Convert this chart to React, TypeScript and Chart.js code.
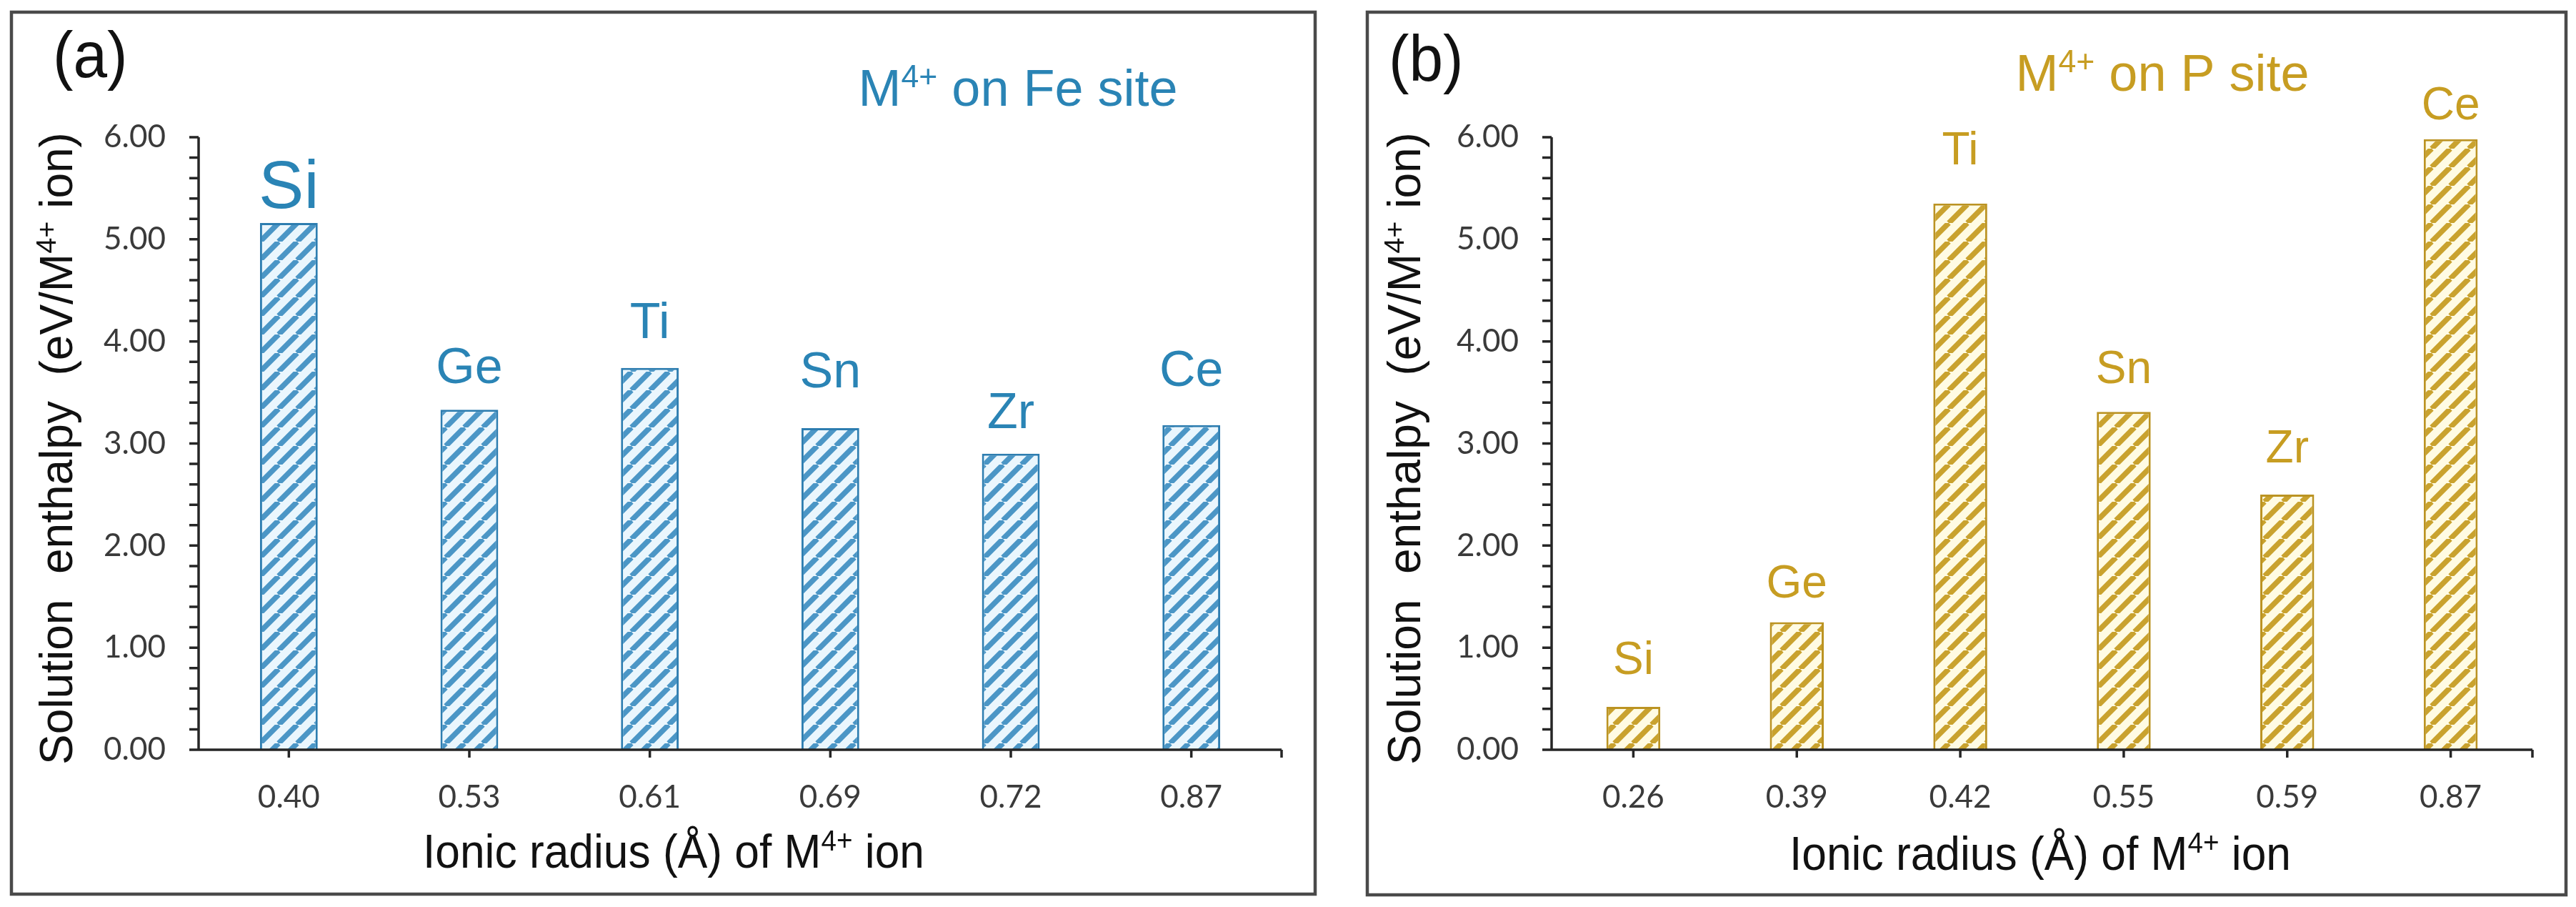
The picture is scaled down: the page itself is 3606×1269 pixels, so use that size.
import React, { useEffect, useRef } from "react";
import { Chart, registerables } from "chart.js";

Chart.register(...registerables);

// ---------- data ----------
const radiiFe = ["0.40", "0.53", "0.61", "0.69", "0.72", "0.87"];
const ionsFe = ["Si", "Ge", "Ti", "Sn", "Zr", "Ce"];
const enthalpyFe = [5.16, 3.33, 3.74, 3.15, 2.9, 3.18];

const radiiP = ["0.26", "0.39", "0.42", "0.55", "0.59", "0.87"];
const ionsP = ["Si", "Ge", "Ti", "Sn", "Zr", "Ce"];
const enthalpyP = [0.42, 1.25, 5.35, 3.31, 2.5, 5.98];

const yMin = 0;
const yMax = 6;
const yStep = 1;

// label gaps (px above bar top) – styling only
const gapsFe = [21, 37, 42, 57, 36, 55];
const gapsP = [46, 34, 55, 40, 45, 28];
const labelSizesFe = [95, 70, 70, 70, 70, 70];
const labelSizesP = [64, 64, 64, 64, 64, 64];

const PAGE_H = 1269;
const SANS = '"Liberation Sans", Arial, sans-serif';
const TICKFONT = 'Lato, "Open Sans", sans-serif';

type Part = [string, boolean];

function drawRich(
  ctx: CanvasRenderingContext2D,
  parts: Part[],
  x: number,
  y: number,
  size: number,
  align: "left" | "center",
  sx = 1
) {
  const sup = size * 0.62;
  const widths = parts.map(([t, s]) => {
    ctx.font = `${s ? sup : size}px ${SANS}`;
    return ctx.measureText(t).width;
  });
  const total = widths.reduce((a, b) => a + b, 0);
  ctx.save();
  ctx.translate(x, y);
  ctx.scale(sx, 1);
  let cx = align === "center" ? -total / 2 : 0;
  ctx.textAlign = "left";
  ctx.textBaseline = "alphabetic";
  parts.forEach(([t, s], i) => {
    ctx.font = `${s ? sup : size}px ${SANS}`;
    ctx.fillText(t, cx, s ? -size * 0.36 : 0);
    cx += widths[i];
  });
  ctx.restore();
}

function makeHatch(stripe: string, bg: string, p = 26, lw = 7.5) {
  const c = document.createElement("canvas");
  c.width = p;
  c.height = p;
  const g = c.getContext("2d")!;
  g.fillStyle = bg;
  g.fillRect(0, 0, p, p);
  g.strokeStyle = stripe;
  g.lineWidth = lw;
  g.beginPath();
  for (let k = -1; k <= 1; k++) {
    g.moveTo(k * p, p);
    g.lineTo(k * p + p, 0);
  }
  g.stroke();
  return g.createPattern(c, "repeat")!;
}

type PanelCfg = {
  letter: string;
  titleParts: Part[];
  color: string;
  barBorder: string;
  stripe: string;
  stripeBg: string;
  labels: string[];
  ions: string[];
  values: number[];
  gaps: number[];
  labelSizes: number[];
  barPct: number;
  canvasLeft: number;
  canvasWidth: number;
  area: { left: number; right: number; top: number; bottom: number };
  frame: { l: number; t: number; r: number; b: number };
  titleX: number;
  titleY: number;
  letterX: number;
  letterY: number;
  xTitleX: number;
  xTitleY: number;
  yTitleX: number;
};

const panelA: PanelCfg = {
  letter: "(a)",
  titleParts: [["M", false], ["4+", true], [" on Fe site", false]],
  color: "#2a84b5",
  barBorder: "#2d7db0",
  stripe: "#4b96c6",
  stripeBg: "#eaf6fd",
  labels: radiiFe,
  ions: ionsFe,
  values: enthalpyFe,
  gaps: gapsFe,
  labelSizes: labelSizesFe,
  barPct: 0.32,
  canvasLeft: 0,
  canvasWidth: 1870,
  area: { left: 278, right: 1794, top: 192, bottom: 1049 },
  frame: { l: 16, t: 17, r: 1841, b: 1251 },
  titleX: 1425,
  titleY: 148,
  letterX: 74,
  letterY: 108,
  xTitleX: 943,
  xTitleY: 1214,
  yTitleX: 101,
};

const panelB: PanelCfg = {
  letter: "(b)",
  titleParts: [["M", false], ["4+", true], [" on P site", false]],
  color: "#c79d22",
  barBorder: "#bb9322",
  stripe: "#c9a22e",
  stripeBg: "#fffbe3",
  labels: radiiP,
  ions: ionsP,
  values: enthalpyP,
  gaps: gapsP,
  labelSizes: labelSizesP,
  barPct: 0.33,
  canvasLeft: 1870,
  canvasWidth: 1736,
  area: { left: 2172, right: 3545, top: 192, bottom: 1049 },
  frame: { l: 1914, t: 17, r: 3592, b: 1252 },
  titleX: 3027,
  titleY: 127,
  letterX: 1944,
  letterY: 113,
  xTitleX: 2856,
  xTitleY: 1217,
  yTitleX: 1988,
};

function Panel({ cfg }: { cfg: PanelCfg }) {
  const ref = useRef<HTMLCanvasElement | null>(null);
  useEffect(() => {
    const canvas = ref.current!;
    const off = cfg.canvasLeft;
    const areaL = cfg.area.left - off;
    const areaR = cfg.area.right - off;
    const hatch = makeHatch(cfg.stripe, cfg.stripeBg);

    const decor = {
      id: "decor" + cfg.letter,
      afterDraw(chart: any) {
        const ctx: CanvasRenderingContext2D = chart.ctx;
        const { left, right, top, bottom } = chart.chartArea;
        const xs = chart.scales.x;
        const ys = chart.scales.y;
        ctx.save();
        // axes
        ctx.strokeStyle = "#262626";
        ctx.lineWidth = 3.5;
        ctx.lineCap = "butt";
        ctx.beginPath();
        ctx.moveTo(left, top);
        ctx.lineTo(left, bottom);
        for (let i = 0; i <= (yMax - yMin) * 5; i++) {
          const y = ys.getPixelForValue(yMin + i / 5);
          ctx.moveTo(left - 13, y);
          ctx.lineTo(left, y);
        }
        ctx.moveTo(left - 13, bottom);
        ctx.lineTo(right, bottom);
        cfg.labels.forEach((_, i) => {
          const x = xs.getPixelForValue(i);
          ctx.moveTo(x, bottom);
          ctx.lineTo(x, bottom + 11);
        });
        ctx.moveTo(right, bottom);
        ctx.lineTo(right, bottom + 11);
        ctx.stroke();

        // bar labels
        const meta = chart.getDatasetMeta(0);
        ctx.fillStyle = cfg.color;
        ctx.textAlign = "center";
        ctx.textBaseline = "alphabetic";
        meta.data.forEach((el: any, i: number) => {
          ctx.font = `${cfg.labelSizes[i]}px ${SANS}`;
          ctx.fillText(cfg.ions[i], el.x, el.y - cfg.gaps[i]);
        });

        // panel title
        ctx.fillStyle = cfg.color;
        drawRich(ctx, cfg.titleParts, cfg.titleX - off, cfg.titleY, 72, "center");

        // letter
        ctx.fillStyle = "#111";
        drawRich(ctx, [[cfg.letter, false]], cfg.letterX - off, cfg.letterY, 90, "left", 0.95);

        // x title
        ctx.fillStyle = "#111";
        drawRich(
          ctx,
          [["Ionic radius (Å) of M", false], ["4+", true], [" ion", false]],
          cfg.xTitleX - off,
          cfg.xTitleY,
          67,
          "center",
          0.93
        );

        // y title
        ctx.save();
        ctx.translate(cfg.yTitleX - off, (top + bottom) / 2 + 7);
        ctx.rotate(-Math.PI / 2);
        drawRich(
          ctx,
          [["Solution  enthalpy  (eV/M", false], ["4+", true], [" ion)", false]],
          0,
          0,
          64,
          "center"
        );
        ctx.restore();

        // frame
        ctx.strokeStyle = "#4a4a4a";
        ctx.lineWidth = 4.5;
        ctx.strokeRect(cfg.frame.l - off, cfg.frame.t, cfg.frame.r - cfg.frame.l, cfg.frame.b - cfg.frame.t);
        ctx.restore();
      },
    };

    const chart = new Chart(canvas, {
      type: "bar",
      data: {
        labels: cfg.labels,
        datasets: [
          {
            data: cfg.values,
            backgroundColor: hatch as any,
            borderColor: cfg.barBorder,
            borderWidth: 3,
            categoryPercentage: 1,
            barPercentage: cfg.barPct,
          },
        ],
      },
      options: {
        responsive: false,
        animation: false,
        devicePixelRatio: 1,
        layout: { padding: { left: 0, top: cfg.area.top, right: cfg.canvasWidth - areaR, bottom: 0 } },
        plugins: { legend: { display: false }, tooltip: { enabled: false } },
        scales: {
          x: {
            type: "category",
            offset: true,
            grid: { display: false, drawTicks: false },
            border: { display: false },
            ticks: {
              font: { family: TICKFONT, size: 44 },
              color: "#3a3a3a",
              padding: 40,
              maxRotation: 0,
              autoSkip: false,
            },
            afterFit: (s: any) => {
              s.height = PAGE_H - cfg.area.bottom;
            },
          },
          y: {
            min: yMin,
            max: yMax,
            grid: { display: false, drawTicks: false },
            border: { display: false },
            ticks: {
              stepSize: yStep,
              callback: (v: any) => Number(v).toFixed(2),
              font: { family: TICKFONT, size: 44 },
              color: "#3a3a3a",
              padding: 46,
            },
            afterFit: (s: any) => {
              s.width = areaL;
            },
          },
        },
      },
      plugins: [decor],
    });
    return () => chart.destroy();
  }, [cfg]);
  return (
    <canvas
      ref={ref}
      width={cfg.canvasWidth}
      height={PAGE_H}
      style={{ position: "absolute", left: cfg.canvasLeft, top: 0, width: cfg.canvasWidth, height: PAGE_H }}
    />
  );
}

export default function App() {
  useEffect(() => {
    document.body.style.margin = "0";
    document.body.style.background = "#fff";
  }, []);
  return (
    <div style={{ position: "relative", width: 3606, height: PAGE_H, overflow: "hidden", background: "#fff" }}>
      <Panel cfg={panelA} />
      <Panel cfg={panelB} />
    </div>
  );
}
